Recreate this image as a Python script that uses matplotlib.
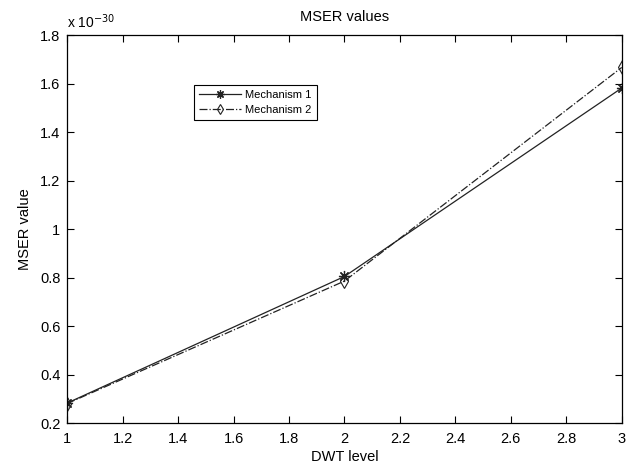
import matplotlib
matplotlib.use("Agg")
import matplotlib.pyplot as plt
from matplotlib.ticker import FormatStrFormatter

# MSER values in units of 1e-30
dwt_levels = [1, 2, 3]
mech1 = [0.283, 0.805, 1.582]
mech2 = [0.281, 0.786, 1.667]
labels = ["Mechanism 1", "Mechanism 2"]

plt.rcParams["font.family"] = ["Liberation Sans", "DejaVu Sans"]
plt.rcParams["font.size"] = 10.5

fig = plt.figure(figsize=(6.28, 4.63), dpi=100)
ax = fig.add_axes([0.107, 0.086, 0.883, 0.838])

ax.plot(dwt_levels, mech1, "-", color="#222222", lw=0.9,
        marker=(8, 2, 0), ms=8, mew=0.9, label=labels[0])
ax.plot(dwt_levels, mech2, "-.", color="#222222", lw=0.9,
        marker="d", ms=7, mfc="none", mew=0.8, label=labels[1])

ax.set_xlim(1, 3)
ax.set_ylim(0.2, 1.8)
ax.set_xticks([1, 1.2, 1.4, 1.6, 1.8, 2, 2.2, 2.4, 2.6, 2.8, 3])
ax.set_yticks([0.2, 0.4, 0.6, 0.8, 1.0, 1.2, 1.4, 1.6, 1.8])
ax.xaxis.set_major_formatter(FormatStrFormatter("%g"))
ax.yaxis.set_major_formatter(FormatStrFormatter("%g"))
ax.tick_params(direction="in", top=True, right=True, length=5, width=0.8)
ax.tick_params(axis="x", pad=6)
ax.tick_params(axis="y", pad=5)
for s in ax.spines.values():
    s.set_linewidth(0.9)

ax.set_title("MSER values", fontsize=10.5, pad=10)
ax.set_xlabel("DWT level", labelpad=3)
ax.set_ylabel("MSER value", labelpad=6)
ax.text(0.0, 1.01, r"x 10$^{-30}$", transform=ax.transAxes,
        ha="left", va="bottom", fontsize=10)

leg = ax.legend(loc="upper left", bbox_to_anchor=(0.218, 0.885),
                fancybox=False, edgecolor="black", framealpha=1,
                fontsize=8, handlelength=3.8, handletextpad=0.4,
                borderpad=0.45, labelspacing=0.45, markerscale=0.75)
leg.get_frame().set_linewidth(0.8)

fig.savefig("out.png", dpi=100)
